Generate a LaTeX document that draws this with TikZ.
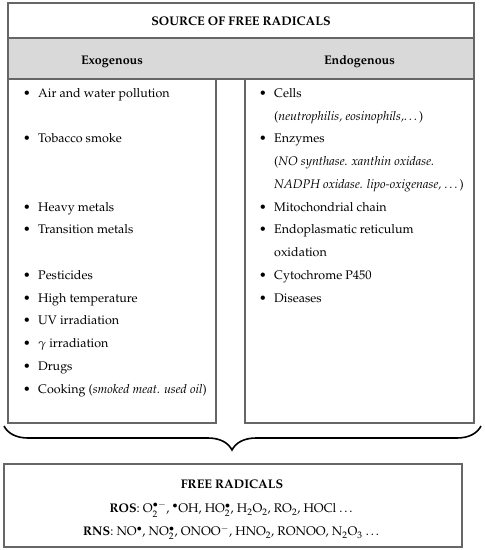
\documentclass[tikz,border=0pt]{standalone}
\usepackage[T1]{fontenc}
\usepackage{mathpazo}
\usetikzlibrary{decorations.pathreplacing, positioning}

\begin{document}
\begin{tikzpicture}[x=1pt, y=-1pt,
    box/.style={
        rectangle, draw=black!60, line width=1.3pt, inner sep=0pt
    },
    headtxt/.style={font=\fontsize{12.5}{14}\selectfont\bfseries},
    item/.style={anchor=mid west, inner sep=0pt, font=\fontsize{12.5}{14}\selectfont, yshift=-2pt},
    brc/.style={decorate, decoration={brace, mirror, amplitude=24pt, aspect=0.478}, line width=1.6pt},
]
\useasboundingbox (0,0) rectangle (485,550);

% Title and header band
\node[box, minimum width=466pt, minimum height=36pt, headtxt] (title) at (241,21) {SOURCE OF FREE RADICALS};
\node[box, fill=black!15, minimum width=466pt, minimum height=41pt] (header) at (241,58.5) {};
\node[headtxt] (exohead)  at (112,61.5)   {Exogenous};
\node[headtxt] (endohead) at (359.5,61.5) {Endogenous};

% Columns
\node[box, minimum width=208pt, minimum height=344pt] (exo)  at (112,251)   {};
\node[box, minimum width=229pt, minimum height=344pt] (endo) at (359.5,251) {};

% Exogenous items (row number / text)
\foreach \r/\t in {0/Air and water pollution, 2/Tobacco smoke, 5/Heavy metals,
                   6/Transition metals, 8/Pesticides, 9/High temperature,
                   10/UV irradiation, 11/$\gamma$ irradiation, 12/Drugs,
                   13/{Cooking (\textit{smoked meat. used oil})}}
    \node[item] (exo-\r) at (23,93+22.75*\r) {\makebox[15pt][l]{\textbullet}\t};

% Endogenous items
\foreach \r/\t in {0/Cells, 2/Enzymes, 5/Mitochondrial chain,
                   6/Endoplasmatic reticulum, 8/Cytochrome P450, 9/Diseases}
    \node[item] (endo-\r) at (259,93+22.75*\r) {\makebox[15pt][l]{\textbullet}\t};

% Endogenous continuation lines
\node[item] (endo-1) at (274,93+22.75*1) {(\textit{neutrophilis, eosinophils,\ldots})};
\node[item] (endo-3) at (274,93+22.75*3) {(\textit{NO synthase. xanthin oxidase.}};
\node[item] (endo-4) at (274,93+22.75*4) {\textit{NADPH oxidase. lipo-oxigenase, \ldots})};
\node[item] (endo-7) at (274,93+22.75*7) {oxidation};

% Brace joining both columns
\coordinate (brl) at (4,426);
\coordinate (brr) at (481,426);
\draw[brc] (brl) -- (brr);

% Result box
\node[box, minimum width=458pt, minimum height=83pt] (radicals) at (233,505.5) {};
\node[item, anchor=mid] (radtitle) at (232,484.5) {\textbf{FREE RADICALS}};
\node[item, anchor=mid] (ros) at (232,508.5)
    {\textbf{ROS}: O$_2^{\bullet-}$, $^\bullet$OH, HO$_2^\bullet$, H$_2$O$_2$, RO$_2$, HOCl \ldots};
\node[item, anchor=mid] (rns) at (232,531.5)
    {\textbf{RNS}: NO$^\bullet$, NO$_2^\bullet$, ONOO$^-$, HNO$_2$, RONOO, N$_2$O$_3$ \ldots};

\end{tikzpicture}
\end{document}
